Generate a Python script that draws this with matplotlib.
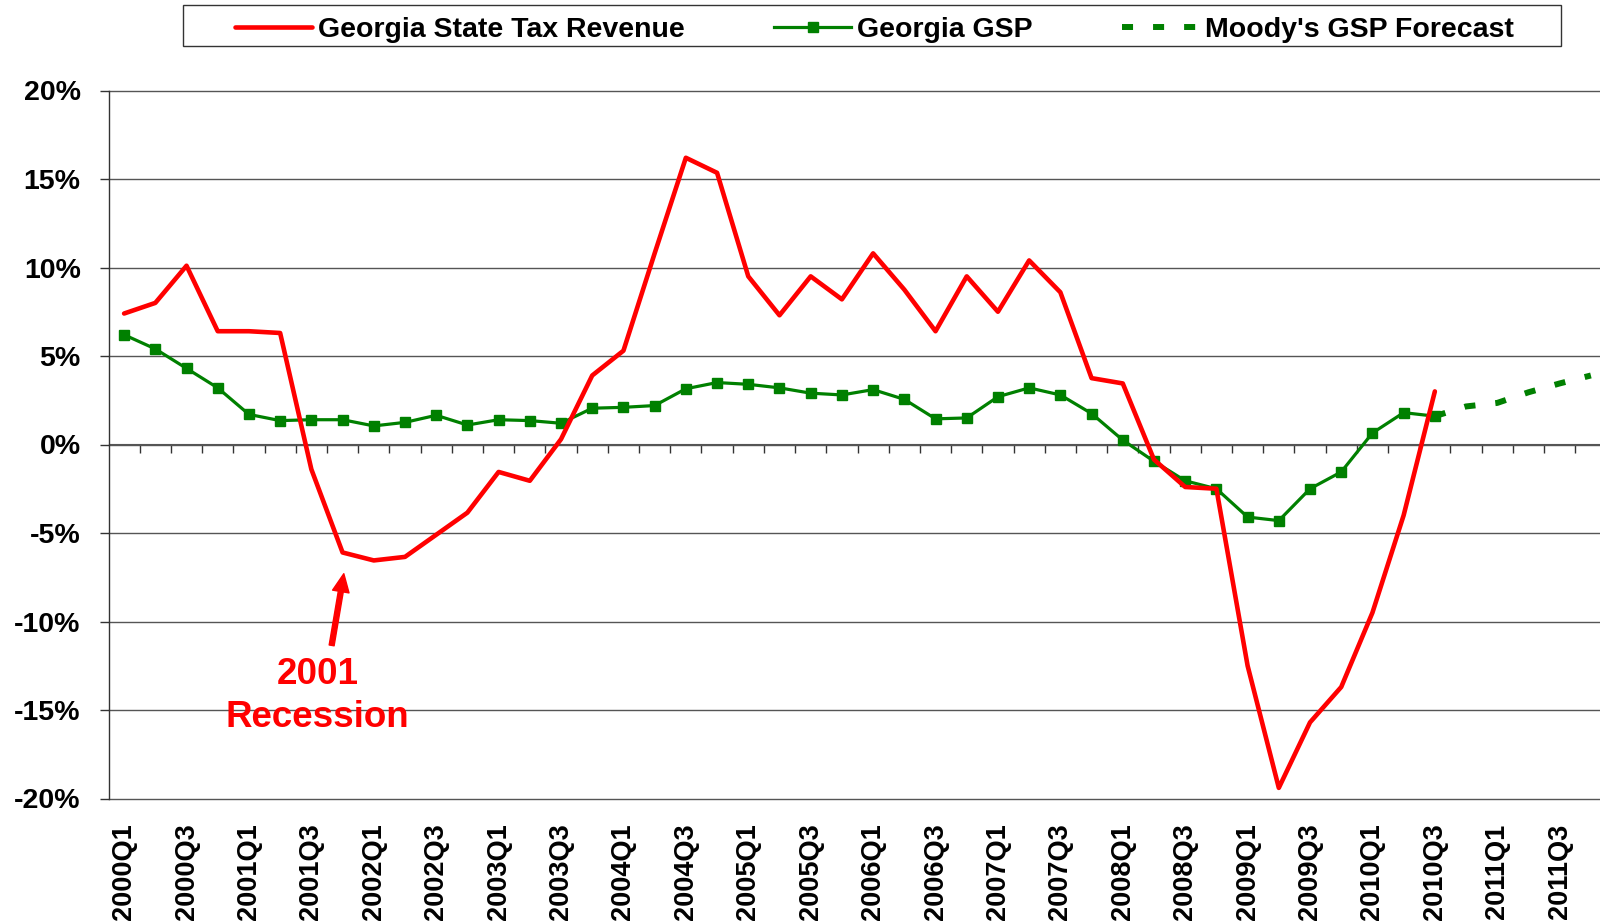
import matplotlib
matplotlib.use("Agg")
import matplotlib.pyplot as plt
from matplotlib.lines import Line2D
from matplotlib.patches import Rectangle

plt.rcParams['font.family'] = ['Liberation Sans', 'DejaVu Sans']
plt.rcParams['font.weight'] = 'bold'
plt.rcParams['axes.unicode_minus'] = False

# ---------------------------------------------------------------------------
# datos (crecimiento anual, %)
# ---------------------------------------------------------------------------
trimestres = [f"{a}Q{q}" for a in range(2000, 2012) for q in range(1, 5)]

recaudacion = [7.4, 8.0, 10.1, 6.4, 6.4, 6.3, -1.4, -6.1, -6.55, -6.35,
               -5.1, -3.85, -1.55, -2.05, 0.3, 3.9, 5.3, 10.8, 16.2, 15.35,
               9.5, 7.3, 9.5, 8.2, 10.8, 8.75, 6.4, 9.5, 7.5, 10.4,
               8.6, 3.75, 3.45, -0.85, -2.4, -2.5, -12.5, -19.4, -15.7, -13.7,
               -9.5, -4.0, 3.0]

gsp = [6.2, 5.4, 4.3, 3.2, 1.7, 1.35, 1.4, 1.4, 1.05, 1.25,
       1.65, 1.1, 1.4, 1.35, 1.2, 2.05, 2.1, 2.2, 3.15, 3.5,
       3.4, 3.2, 2.9, 2.8, 3.1, 2.55, 1.45, 1.5, 2.7, 3.2,
       2.8, 1.75, 0.25, -0.95, -2.05, -2.5, -4.1, -4.3, -2.5, -1.55,
       0.65, 1.8, 1.6]

pronostico = [1.6, 2.15, 2.35, 2.95, 3.45, 3.9]   # Moody's, 2010Q3 - 2011Q4

y_ticks = [20, 15, 10, 5, 0, -5, -10, -15, -20]

ROJO = '#FF0000'
VERDE = '#008000'

fig = plt.figure(figsize=(16, 9.24), dpi=100)
ax = fig.add_axes([108.5 / 1600, 1 - 798.5 / 924, 1498 / 1600, 708 / 924])

x_rec = list(range(len(recaudacion)))
x_gsp = list(range(len(gsp)))
x_pro = list(range(len(gsp) - 1, len(gsp) - 1 + len(pronostico)))

ax.plot(x_pro, pronostico, color=VERDE, lw=4.3, linestyle=(0, (1.85, 3.35)),
        zorder=3)
ax.plot(x_gsp, gsp, color=VERDE, lw=2.3, marker='s', markersize=7,
        zorder=4)
ax.plot(x_rec, recaudacion, color=ROJO, lw=3.3, solid_capstyle='round',
        zorder=5)

# ejes
ax.set_xlim(-0.5, len(trimestres) - 0.5)
ax.set_ylim(-20, 20)
ax.set_yticks(y_ticks)
ax.set_yticklabels([f"{v}%" for v in y_ticks], fontsize=20.5, fontweight='bold')
ax.set_xticks(range(0, len(trimestres), 2))
ax.set_xticklabels(trimestres[::2], rotation=90, fontsize=19.5,
                   fontweight='bold', va='top', ha='center')
ax.tick_params(axis='x', length=0, pad=18)
ax.tick_params(axis='y', length=6.5, width=1, color='#333333', pad=13.5)

for lado in ['top', 'right', 'bottom']:
    ax.spines[lado].set_visible(False)
ax.spines['left'].set_color('#333333')
ax.spines['left'].set_linewidth(1)

ax.grid(axis='y', color='#555555', lw=1)
for g in ax.get_ygridlines():
    g.set_clip_on(False)
ax.set_axisbelow(True)

# eje de categorías cruzando en 0%
sec = ax.secondary_xaxis(0.5)
sec.set_xticks([i - 0.5 for i in range(1, len(trimestres))])
sec.tick_params(direction='in', length=6.5, width=1, color='#333333',
                labeltop=False, labelbottom=False)
sec.spines['top'].set_color('#555555')

# anotación recesión 2001
ax.annotate('', xy=(7.04, -7.3), xytext=(6.65, -11.35),
            arrowprops=dict(facecolor=ROJO, edgecolor=ROJO, width=3.6,
                            headwidth=12, headlength=13, shrink=0),
            zorder=6)
ax.text(6.2, -12.0, '2001\nRecession', color=ROJO, fontsize=26.5,
        fontweight='bold', ha='center', va='top', linespacing=1.3)

# leyenda
handles = [
    Line2D([], [], color=ROJO, lw=3.3, solid_capstyle='round'),
    Line2D([], [], color=VERDE, lw=2.3, marker='s', markersize=7),
    Line2D([], [], color=VERDE, lw=4.3, linestyle=(0, (1.85, 3.35))),
]
etiquetas = ['Georgia State Tax Revenue', 'Georgia GSP', "Moody's GSP Forecast"]
fig.legend(handles, etiquetas, loc='center', ncol=3, frameon=False,
           bbox_to_anchor=(874.5 / 1600, 1 - 30 / 924),
           handlelength=2.7, handletextpad=0.21, columnspacing=3.15,
           prop={'size': 20.5, 'weight': 'bold'})
fig.patches.append(Rectangle((183 / 1600, 1 - 46 / 924), 1378 / 1600, 41 / 924,
                             transform=fig.transFigure, fill=False,
                             edgecolor='#333333', lw=1))

fig.savefig('out.png', dpi=100)
